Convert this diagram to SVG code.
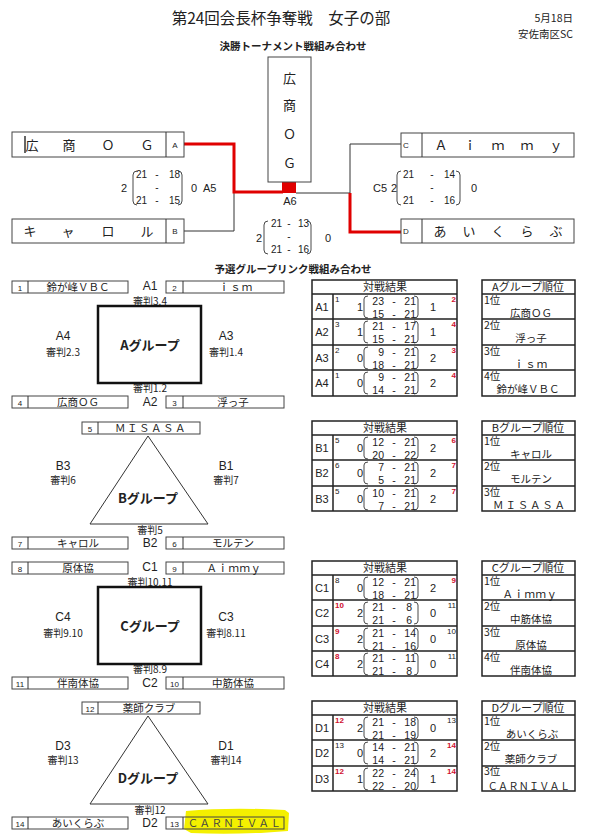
<svg xmlns="http://www.w3.org/2000/svg" width="592" height="840" viewBox="0 0 592 840">
<style>
text{font-family:"Liberation Sans","Noto Sans CJK JP",sans-serif;fill:#222}
.j{font-family:"Noto Sans CJK JP","Liberation Sans",sans-serif}
.m{text-anchor:middle}
.e{text-anchor:end}
.f8{font-size:8px}
.f10{font-size:10px}
.f105{font-size:10.5px}
.f11{font-size:11px}
.f12{font-size:12px}
.f13{font-size:13px}
.b{font-weight:bold}
.rn{fill:#d01030;font-weight:bold}
.bx{fill:#fff;stroke:#444;stroke-width:1}
.bxn{fill:none;stroke:#444;stroke-width:1}
.ln{fill:none;stroke:#333;stroke-width:1}
.pr{fill:none;stroke:#333;stroke-width:0.9}
.red{fill:none;stroke:#e00000;stroke-width:3}
.tb{fill:none;stroke:#222;stroke-width:1.5}
.gr{fill:#fff;stroke:#111;stroke-width:2.5}
.tri{fill:#fff;stroke:#333;stroke-width:1}
</style>

<!-- header -->
<text class="j m" x="281" y="24" font-size="15.5">第24回会長杯争奪戦　女子の部</text>
<text class="j e f105" x="573" y="22">5月18日</text>
<text class="j e f105" x="573" y="38">安佐南区SC</text>
<text class="j m b f105" x="293" y="50">決勝トーナメント戦組み合わせ</text>
<text class="j m b f105" x="293" y="273">予選グループリンク戦組み合わせ</text>

<!-- connectors of final bracket -->
<g id="connectors">
  <path class="ln" d="M184 231 H234 V193"/>
  <path class="ln" d="M296 193 H350 V144 H401"/>
  <path class="red" d="M184 144 H234 V192 H283"/>
  <path class="red" d="M350 193 V232 H401"/>
  <rect x="282" y="182" width="14" height="11" fill="#e00000"/>
</g>

<!-- final bracket nodes -->
<g id="finalA">
  <rect class="bx" x="12" y="132" width="172" height="25"/>
  <line class="ln" x1="166" y1="132" x2="166" y2="157"/>
  <line x1="25" y1="136" x2="25" y2="153" stroke="#333" stroke-width="1.5"/>
  <text class="j m f13" x="32" y="150">広</text>
  <text class="j m f13" x="69" y="150">商</text>
  <text class="j m f13" x="108" y="150">Ｏ</text>
  <text class="j m f13" x="147" y="150">Ｇ</text>
  <text class="m f8" x="175" y="148">A</text>
</g>
<g id="finalB">
  <rect class="bx" x="12" y="219" width="172" height="24"/>
  <line class="ln" x1="166" y1="219" x2="166" y2="243"/>
  <text class="j m f13" x="30" y="236">キ</text>
  <text class="j m f13" x="68" y="236">ャ</text>
  <text class="j m f13" x="108" y="236">ロ</text>
  <text class="j m f13" x="147" y="236">ル</text>
  <text class="m f8" x="175" y="234">B</text>
</g>
<g id="finalC">
  <rect class="bx" x="401" y="133" width="173" height="24"/>
  <line class="ln" x1="422" y1="133" x2="422" y2="157"/>
  <text class="f8" x="403" y="148">C</text>
  <text class="j m f13" x="441" y="150">Ａ</text>
  <text class="j m f13" x="470" y="150">ｉ</text>
  <text class="j m f13" x="498" y="150">ｍ</text>
  <text class="j m f13" x="527" y="150">ｍ</text>
  <text class="j m f13" x="556" y="150">ｙ</text>
</g>
<g id="finalD">
  <rect class="bx" x="401" y="219" width="173" height="24"/>
  <line class="ln" x1="422" y1="219" x2="422" y2="243"/>
  <text class="f8" x="403" y="234">D</text>
  <text class="j m f13" x="440" y="236">あ</text>
  <text class="j m f13" x="469" y="236">い</text>
  <text class="j m f13" x="498" y="236">く</text>
  <text class="j m f13" x="527" y="236">ら</text>
  <text class="j m f13" x="556" y="236">ぶ</text>
</g>
<g id="champion">
  <rect class="bx" x="268" y="57" width="43" height="125"/>
  <text class="j m f13" x="289.5" y="83">広</text>
  <text class="j m f13" x="289.5" y="110">商</text>
  <text class="j m f13" x="289.5" y="139">Ｏ</text>
  <text class="j m f13" x="289.5" y="168">Ｇ</text>
  <text class="m f11" x="290" y="205">A6</text>
</g>

<!-- match scores in bracket -->
<g id="scoreA5">
  <text class="m f11" x="124" y="192">2</text>
  <path class="pr" d="M137 171 Q133 171 133 175 V201 Q133 205 137 205"/>
  <path class="pr" d="M178 171 Q182 171 182 175 V201 Q182 205 178 205"/>
  <text class="e f10" x="147" y="178">21</text><text class="m f10" x="157" y="178">-</text><text class="e f10" x="180" y="178">18</text>
  <text class="m f10" x="157" y="191">-</text>
  <text class="e f10" x="147" y="204">21</text><text class="m f10" x="157" y="204">-</text><text class="e f10" x="180" y="204">15</text>
  <text class="m f11" x="194" y="192">0</text>
  <text class="f11" x="203" y="192">A5</text>
</g>
<g id="scoreA6">
  <text class="m f11" x="259" y="242">2</text>
  <path class="pr" d="M268 221 Q264 221 264 225 V250 Q264 254 268 254"/>
  <path class="pr" d="M307 221 Q311 221 311 225 V250 Q311 254 307 254"/>
  <text class="e f10" x="282" y="227">21</text><text class="m f10" x="289" y="227">-</text><text class="e f10" x="309" y="227">13</text>
  <text class="m f10" x="289" y="240">-</text>
  <text class="e f10" x="282" y="253">21</text><text class="m f10" x="289" y="253">-</text><text class="e f10" x="309" y="253">16</text>
  <text class="m f11" x="328" y="242">0</text>
</g>
<g id="scoreC5">
  <text class="f11" x="373" y="192">C5</text>
  <text class="m f11" x="394" y="192">2</text>
  <path class="pr" d="M401 171 Q397 171 397 175 V201 Q397 205 401 205"/>
  <path class="pr" d="M456 171 Q460 171 460 175 V201 Q460 205 456 205"/>
  <text class="e f10" x="414" y="178">21</text><text class="m f10" x="432" y="178">-</text><text class="e f10" x="455" y="178">14</text>
  <text class="m f10" x="432" y="191">-</text>
  <text class="e f10" x="414" y="204">21</text><text class="m f10" x="432" y="204">-</text><text class="e f10" x="455" y="204">16</text>
  <text class="m f11" x="474" y="192">0</text>
</g>

<!-- Group A -->
<g id="groupA" transform="translate(0,281)">
  <g id="team1"><rect class="bx" x="12" y="0" width="116" height="12"/><line class="ln" x1="28" y1="0" x2="28" y2="12"/><text class="m f8" x="20" y="9.5">1</text><text class="j m f105" x="78" y="10">鈴が峰ＶＢＣ</text></g>
  <g id="team2"><rect class="bx" x="166" y="0" width="118" height="12"/><line class="ln" x1="183" y1="0" x2="183" y2="12"/><text class="m f8" x="174.5" y="9.5">2</text><text class="j m f105" x="236" y="10" letter-spacing="1">ｉｓｍ</text></g>
  <text class="m f12" x="150" y="9">A1</text>
  <text class="j m f10" x="150" y="23.5">審判3.4</text>
  <rect class="gr" x="98" y="25" width="103" height="77"/>
  <text class="j m b f13" x="150" y="69">Aグループ</text>
  <text class="m f12" x="63" y="59">A4</text>
  <text class="j m f10" x="63" y="75">審判2.3</text>
  <text class="m f12" x="226" y="59">A3</text>
  <text class="j m f10" x="226" y="75">審判1.4</text>
  <text class="j m f10" x="150" y="111">審判1.2</text>
  <g id="team4"><rect class="bx" x="12" y="115" width="116" height="12"/><line class="ln" x1="28" y1="115" x2="28" y2="127"/><text class="m f8" x="20" y="124.5">4</text><text class="j m f105" x="78" y="125">広商ＯＧ</text></g>
  <g id="team3"><rect class="bx" x="166" y="115" width="118" height="12"/><line class="ln" x1="183" y1="115" x2="183" y2="127"/><text class="m f8" x="174.5" y="124.5">3</text><text class="j m f105" x="233" y="125">浮っ子</text></g>
  <text class="m f12" x="150" y="125">A2</text>
</g>

<!-- Group B -->
<g id="groupB" transform="translate(0,422)">
  <g id="team5"><rect class="bx" x="82" y="0" width="118" height="12"/><line class="ln" x1="98" y1="0" x2="98" y2="12"/><text class="m f8" x="90" y="9.5">5</text><text class="j m f105" x="151" y="10" letter-spacing="1.5">ＭＩＳＡＳＡ</text></g>
  <polygon class="tri" points="148,14 90,102 208,102"/>
  <text class="j m b f13" x="148" y="81">Bグループ</text>
  <text class="m f12" x="63" y="48">B3</text>
  <text class="j m f10" x="63" y="62">審判6</text>
  <text class="m f12" x="226" y="48">B1</text>
  <text class="j m f10" x="226" y="62">審判7</text>
  <text class="j m f10" x="150" y="112">審判5</text>
  <g id="team7"><rect class="bx" x="12" y="115" width="116" height="12"/><line class="ln" x1="28" y1="115" x2="28" y2="127"/><text class="m f8" x="20" y="124.5">7</text><text class="j m f105" x="78" y="125">キャロル</text></g>
  <g id="team6"><rect class="bx" x="166" y="115" width="118" height="12"/><line class="ln" x1="183" y1="115" x2="183" y2="127"/><text class="m f8" x="174.5" y="124.5">6</text><text class="j m f105" x="233" y="125">モルテン</text></g>
  <text class="m f12" x="150" y="125">B2</text>
</g>

<!-- Group C -->
<g id="groupC" transform="translate(0,562)">
  <g id="team8"><rect class="bx" x="12" y="0" width="116" height="12"/><line class="ln" x1="28" y1="0" x2="28" y2="12"/><text class="m f8" x="20" y="9.5">8</text><text class="j m f105" x="78" y="10">原体協</text></g>
  <g id="team9"><rect class="bx" x="166" y="0" width="118" height="12"/><line class="ln" x1="183" y1="0" x2="183" y2="12"/><text class="m f8" x="174.5" y="9.5">9</text><text class="j m f105" x="234" y="10" letter-spacing="0.5">Ａｉｍｍｙ</text></g>
  <text class="m f12" x="150" y="9">C1</text>
  <text class="j m f10" x="150" y="23.5">審判10.11</text>
  <rect class="gr" x="98" y="25" width="103" height="77"/>
  <text class="j m b f13" x="150" y="69">Cグループ</text>
  <text class="m f12" x="63" y="59">C4</text>
  <text class="j m f10" x="63" y="75">審判9.10</text>
  <text class="m f12" x="226" y="59">C3</text>
  <text class="j m f10" x="226" y="75">審判8.11</text>
  <text class="j m f10" x="150" y="111">審判8.9</text>
  <g id="team11"><rect class="bx" x="12" y="115" width="116" height="12"/><line class="ln" x1="28" y1="115" x2="28" y2="127"/><text class="m f8" x="20" y="124.5">11</text><text class="j m f105" x="78" y="125">伴南体協</text></g>
  <g id="team10"><rect class="bx" x="166" y="115" width="118" height="12"/><line class="ln" x1="183" y1="115" x2="183" y2="127"/><text class="m f8" x="174.5" y="124.5">10</text><text class="j m f105" x="233" y="125">中筋体協</text></g>
  <text class="m f12" x="150" y="125">C2</text>
</g>

<!-- Group D -->
<path d="M186 811 Q230 807 285 810 L289 813 L288 831 Q240 835 191 833 L184 829 Z" fill="#f4f000"/>
<g id="groupD" transform="translate(0,702)">
  <g id="team12"><rect class="bx" x="82" y="0" width="118" height="12"/><line class="ln" x1="98" y1="0" x2="98" y2="12"/><text class="m f8" x="90" y="9.5">12</text><text class="j m f105" x="149" y="10">薬師クラブ</text></g>
  <polygon class="tri" points="148,14 90,102 208,102"/>
  <text class="j m b f13" x="148" y="81">Dグループ</text>
  <text class="m f12" x="63" y="48">D3</text>
  <text class="j m f10" x="63" y="62">審判13</text>
  <text class="m f12" x="226" y="48">D1</text>
  <text class="j m f10" x="226" y="62">審判14</text>
  <text class="j m f10" x="150" y="112">審判12</text>
  <g id="team14"><rect class="bx" x="12" y="115" width="116" height="12"/><line class="ln" x1="28" y1="115" x2="28" y2="127"/><text class="m f8" x="20" y="124.5">14</text><text class="j m f105" x="78" y="125">あいくらぶ</text></g>
  <g id="team13"><rect class="bxn" x="166" y="115" width="118" height="12"/><line class="ln" x1="183" y1="115" x2="183" y2="127"/><text class="m f8" x="174.5" y="124.5">13</text><text class="j m f105" x="235" y="125" letter-spacing="1.3" style="fill:#444">ＣＡＲＮＩＶＡＬ</text></g>
  <text class="m f12" x="150" y="125">D2</text>
</g>

<!-- Result tables -->
<g id="resultsA" transform="translate(0,280)">
  <rect class="tb" x="312" y="0" width="145" height="116"/>
  <path class="tb" d="M312 14 H457 M312 39 H457 M312 65 H457 M312 90 H457 M333 14 V116"/>
  <text class="j m f11" x="385" y="11">対戦結果</text>
  <g transform="translate(0,14)">
    <text class="m f11" x="322" y="17">A1</text><text class="f8" x="335" y="8">1</text><text class="m f11" x="360" y="17">1</text>
    <path class="pr" d="M368 2 Q364 2 364 5 V21 Q364 24 368 24 M414 2 Q418 2 418 5 V21 Q418 24 414 24"/>
    <text class="e f105" x="384" y="11">23</text><text class="m f105" x="394" y="11">-</text><text class="e f105" x="416" y="11">21</text>
    <text class="e f105" x="384" y="24">15</text><text class="m f105" x="394" y="24">-</text><text class="e f105" x="416" y="24">21</text>
    <text class="m f11" x="433" y="17">1</text><text class="e f8 rn" x="456" y="8">2</text>
  </g>
  <g transform="translate(0,39)">
    <text class="m f11" x="322" y="17">A2</text><text class="f8" x="335" y="8">3</text><text class="m f11" x="360" y="17">1</text>
    <path class="pr" d="M368 2 Q364 2 364 5 V21 Q364 24 368 24 M414 2 Q418 2 418 5 V21 Q418 24 414 24"/>
    <text class="e f105" x="384" y="11">21</text><text class="m f105" x="394" y="11">-</text><text class="e f105" x="416" y="11">17</text>
    <text class="e f105" x="384" y="24">15</text><text class="m f105" x="394" y="24">-</text><text class="e f105" x="416" y="24">21</text>
    <text class="m f11" x="433" y="17">1</text><text class="e f8 rn" x="456" y="8">4</text>
  </g>
  <g transform="translate(0,65)">
    <text class="m f11" x="322" y="17">A3</text><text class="f8" x="335" y="8">2</text><text class="m f11" x="360" y="17">0</text>
    <path class="pr" d="M368 2 Q364 2 364 5 V21 Q364 24 368 24 M414 2 Q418 2 418 5 V21 Q418 24 414 24"/>
    <text class="e f105" x="384" y="11">9</text><text class="m f105" x="394" y="11">-</text><text class="e f105" x="416" y="11">21</text>
    <text class="e f105" x="384" y="24">18</text><text class="m f105" x="394" y="24">-</text><text class="e f105" x="416" y="24">21</text>
    <text class="m f11" x="433" y="17">2</text><text class="e f8 rn" x="456" y="8">3</text>
  </g>
  <g transform="translate(0,90)">
    <text class="m f11" x="322" y="17">A4</text><text class="f8" x="335" y="8">1</text><text class="m f11" x="360" y="17">0</text>
    <path class="pr" d="M368 2 Q364 2 364 5 V21 Q364 24 368 24 M414 2 Q418 2 418 5 V21 Q418 24 414 24"/>
    <text class="e f105" x="384" y="11">9</text><text class="m f105" x="394" y="11">-</text><text class="e f105" x="416" y="11">21</text>
    <text class="e f105" x="384" y="24">14</text><text class="m f105" x="394" y="24">-</text><text class="e f105" x="416" y="24">21</text>
    <text class="m f11" x="433" y="17">2</text><text class="e f8 rn" x="456" y="8">4</text>
  </g>
</g>
<g id="rankA" transform="translate(0,280)">
  <rect class="tb" x="482" y="0" width="93" height="116"/>
  <path class="tb" d="M482 14 H575 M482 39 H575 M482 65 H575 M482 90 H575"/>
  <text class="j m f11" x="528" y="11">Aグループ順位</text>
  <text class="j f105" x="484" y="24">1位</text><text class="j m f105" x="531" y="37">広商ＯＧ</text>
  <text class="j f105" x="484" y="49">2位</text><text class="j m f105" x="531" y="62">浮っ子</text>
  <text class="j f105" x="484" y="75">3位</text><text class="j m f105" x="531" y="88" letter-spacing="1">ｉｓｍ</text>
  <text class="j f105" x="484" y="100">4位</text><text class="j m f105" x="528" y="113">鈴が峰ＶＢＣ</text>
</g>

<g id="resultsB" transform="translate(0,421)">
  <rect class="tb" x="312" y="0" width="145" height="90"/>
  <path class="tb" d="M312 14 H457 M312 39 H457 M312 65 H457 M333 14 V90"/>
  <text class="j m f11" x="385" y="11">対戦結果</text>
  <g transform="translate(0,14)">
    <text class="m f11" x="322" y="17">B1</text><text class="f8" x="335" y="8">5</text><text class="m f11" x="360" y="17">0</text>
    <path class="pr" d="M368 2 Q364 2 364 5 V21 Q364 24 368 24 M414 2 Q418 2 418 5 V21 Q418 24 414 24"/>
    <text class="e f105" x="384" y="11">12</text><text class="m f105" x="394" y="11">-</text><text class="e f105" x="416" y="11">21</text>
    <text class="e f105" x="384" y="24">20</text><text class="m f105" x="394" y="24">-</text><text class="e f105" x="416" y="24">22</text>
    <text class="m f11" x="433" y="17">2</text><text class="e f8 rn" x="456" y="8">6</text>
  </g>
  <g transform="translate(0,39)">
    <text class="m f11" x="322" y="17">B2</text><text class="f8" x="335" y="8">6</text><text class="m f11" x="360" y="17">0</text>
    <path class="pr" d="M368 2 Q364 2 364 5 V21 Q364 24 368 24 M414 2 Q418 2 418 5 V21 Q418 24 414 24"/>
    <text class="e f105" x="384" y="11">7</text><text class="m f105" x="394" y="11">-</text><text class="e f105" x="416" y="11">21</text>
    <text class="e f105" x="384" y="24">5</text><text class="m f105" x="394" y="24">-</text><text class="e f105" x="416" y="24">21</text>
    <text class="m f11" x="433" y="17">2</text><text class="e f8 rn" x="456" y="8">7</text>
  </g>
  <g transform="translate(0,65)">
    <text class="m f11" x="322" y="17">B3</text><text class="f8" x="335" y="8">5</text><text class="m f11" x="360" y="17">0</text>
    <path class="pr" d="M368 2 Q364 2 364 5 V21 Q364 24 368 24 M414 2 Q418 2 418 5 V21 Q418 24 414 24"/>
    <text class="e f105" x="384" y="11">10</text><text class="m f105" x="394" y="11">-</text><text class="e f105" x="416" y="11">21</text>
    <text class="e f105" x="384" y="24">7</text><text class="m f105" x="394" y="24">-</text><text class="e f105" x="416" y="24">21</text>
    <text class="m f11" x="433" y="17">2</text><text class="e f8 rn" x="456" y="8">7</text>
  </g>
</g>
<g id="rankB" transform="translate(0,421)">
  <rect class="tb" x="482" y="0" width="93" height="90"/>
  <path class="tb" d="M482 14 H575 M482 39 H575 M482 65 H575"/>
  <text class="j m f11" x="528" y="11">Bグループ順位</text>
  <text class="j f105" x="484" y="24">1位</text><text class="j m f105" x="531" y="37">キャロル</text>
  <text class="j f105" x="484" y="49">2位</text><text class="j m f105" x="531" y="62">モルテン</text>
  <text class="j f105" x="484" y="75">3位</text><text class="j m f105" x="530" y="88" letter-spacing="1.8">ＭＩＳＡＳＡ</text>
</g>

<g id="resultsC" transform="translate(0,561)">
  <rect class="tb" x="312" y="0" width="145" height="115"/>
  <path class="tb" d="M312 14 H457 M312 39 H457 M312 65 H457 M312 90 H457 M333 14 V115"/>
  <text class="j m f11" x="385" y="11">対戦結果</text>
  <g transform="translate(0,14)">
    <text class="m f11" x="322" y="17">C1</text><text class="f8" x="335" y="8">8</text><text class="m f11" x="360" y="17">0</text>
    <path class="pr" d="M368 2 Q364 2 364 5 V21 Q364 24 368 24 M414 2 Q418 2 418 5 V21 Q418 24 414 24"/>
    <text class="e f105" x="384" y="11">12</text><text class="m f105" x="394" y="11">-</text><text class="e f105" x="416" y="11">21</text>
    <text class="e f105" x="384" y="24">18</text><text class="m f105" x="394" y="24">-</text><text class="e f105" x="416" y="24">21</text>
    <text class="m f11" x="433" y="17">2</text><text class="e f8 rn" x="456" y="8">9</text>
  </g>
  <g transform="translate(0,39)">
    <text class="m f11" x="322" y="17">C2</text><text class="f8 rn" x="335" y="8">10</text><text class="m f11" x="360" y="17">2</text>
    <path class="pr" d="M368 2 Q364 2 364 5 V21 Q364 24 368 24 M414 2 Q418 2 418 5 V21 Q418 24 414 24"/>
    <text class="e f105" x="384" y="11">21</text><text class="m f105" x="394" y="11">-</text><text class="e f105" x="412" y="11">8</text>
    <text class="e f105" x="384" y="24">21</text><text class="m f105" x="394" y="24">-</text><text class="e f105" x="412" y="24">6</text>
    <text class="m f11" x="433" y="17">0</text><text class="e f8" x="456" y="8">11</text>
  </g>
  <g transform="translate(0,65)">
    <text class="m f11" x="322" y="17">C3</text><text class="f8 rn" x="335" y="8">9</text><text class="m f11" x="360" y="17">2</text>
    <path class="pr" d="M368 2 Q364 2 364 5 V21 Q364 24 368 24 M414 2 Q418 2 418 5 V21 Q418 24 414 24"/>
    <text class="e f105" x="384" y="11">21</text><text class="m f105" x="394" y="11">-</text><text class="e f105" x="416" y="11">14</text>
    <text class="e f105" x="384" y="24">21</text><text class="m f105" x="394" y="24">-</text><text class="e f105" x="416" y="24">16</text>
    <text class="m f11" x="433" y="17">0</text><text class="e f8" x="456" y="8">10</text>
  </g>
  <g transform="translate(0,90)">
    <text class="m f11" x="322" y="17">C4</text><text class="f8 rn" x="335" y="8">8</text><text class="m f11" x="360" y="17">2</text>
    <path class="pr" d="M368 2 Q364 2 364 5 V21 Q364 24 368 24 M414 2 Q418 2 418 5 V21 Q418 24 414 24"/>
    <text class="e f105" x="384" y="11">21</text><text class="m f105" x="394" y="11">-</text><text class="e f105" x="416" y="11">11</text>
    <text class="e f105" x="384" y="24">21</text><text class="m f105" x="394" y="24">-</text><text class="e f105" x="412" y="24">8</text>
    <text class="m f11" x="433" y="17">0</text><text class="e f8" x="456" y="8">11</text>
  </g>
</g>
<g id="rankC" transform="translate(0,561)">
  <rect class="tb" x="482" y="0" width="93" height="115"/>
  <path class="tb" d="M482 14 H575 M482 39 H575 M482 65 H575 M482 90 H575"/>
  <text class="j m f11" x="528" y="11">Cグループ順位</text>
  <text class="j f105" x="484" y="24">1位</text><text class="j m f105" x="530" y="37" letter-spacing="0.5">Ａｉｍｍｙ</text>
  <text class="j f105" x="484" y="49">2位</text><text class="j m f105" x="531" y="62">中筋体協</text>
  <text class="j f105" x="484" y="75">3位</text><text class="j m f105" x="531" y="88">原体協</text>
  <text class="j f105" x="484" y="100">4位</text><text class="j m f105" x="531" y="113">伴南体協</text>
</g>

<g id="resultsD" transform="translate(0,701)">
  <rect class="tb" x="312" y="0" width="145" height="90"/>
  <path class="tb" d="M312 14 H457 M312 39 H457 M312 65 H457 M333 14 V90"/>
  <text class="j m f11" x="385" y="11">対戦結果</text>
  <g transform="translate(0,14)">
    <text class="m f11" x="322" y="17">D1</text><text class="f8 rn" x="335" y="8">12</text><text class="m f11" x="360" y="17">2</text>
    <path class="pr" d="M368 2 Q364 2 364 5 V21 Q364 24 368 24 M414 2 Q418 2 418 5 V21 Q418 24 414 24"/>
    <text class="e f105" x="384" y="11">21</text><text class="m f105" x="394" y="11">-</text><text class="e f105" x="416" y="11">18</text>
    <text class="e f105" x="384" y="24">21</text><text class="m f105" x="394" y="24">-</text><text class="e f105" x="416" y="24">19</text>
    <text class="m f11" x="433" y="17">0</text><text class="e f8" x="456" y="8">13</text>
  </g>
  <g transform="translate(0,39)">
    <text class="m f11" x="322" y="17">D2</text><text class="f8" x="335" y="8">13</text><text class="m f11" x="360" y="17">0</text>
    <path class="pr" d="M368 2 Q364 2 364 5 V21 Q364 24 368 24 M414 2 Q418 2 418 5 V21 Q418 24 414 24"/>
    <text class="e f105" x="384" y="11">14</text><text class="m f105" x="394" y="11">-</text><text class="e f105" x="416" y="11">21</text>
    <text class="e f105" x="384" y="24">14</text><text class="m f105" x="394" y="24">-</text><text class="e f105" x="416" y="24">21</text>
    <text class="m f11" x="433" y="17">2</text><text class="e f8 rn" x="456" y="8">14</text>
  </g>
  <g transform="translate(0,65)">
    <text class="m f11" x="322" y="17">D3</text><text class="f8 rn" x="335" y="8">12</text><text class="m f11" x="360" y="17">1</text>
    <path class="pr" d="M368 2 Q364 2 364 5 V21 Q364 24 368 24 M414 2 Q418 2 418 5 V21 Q418 24 414 24"/>
    <text class="e f105" x="384" y="11">22</text><text class="m f105" x="394" y="11">-</text><text class="e f105" x="416" y="11">24</text>
    <text class="e f105" x="384" y="24">22</text><text class="m f105" x="394" y="24">-</text><text class="e f105" x="416" y="24">20</text>
    <text class="m f11" x="433" y="17">1</text><text class="e f8 rn" x="456" y="8">14</text>
  </g>
</g>
<g id="rankD" transform="translate(0,701)">
  <rect class="tb" x="482" y="0" width="93" height="90"/>
  <path class="tb" d="M482 14 H575 M482 39 H575 M482 65 H575"/>
  <text class="j m f11" x="528" y="11">Dグループ順位</text>
  <text class="j f105" x="484" y="24">1位</text><text class="j m f105" x="532" y="37">あいくらぶ</text>
  <text class="j f105" x="484" y="49">2位</text><text class="j m f105" x="531" y="62">薬師クラブ</text>
  <text class="j f105" x="484" y="74">3位</text><text class="j m f10" x="529" y="88.5" letter-spacing="0.3">ＣＡＲＮＩＶＡＬ</text>
</g>
</svg>
